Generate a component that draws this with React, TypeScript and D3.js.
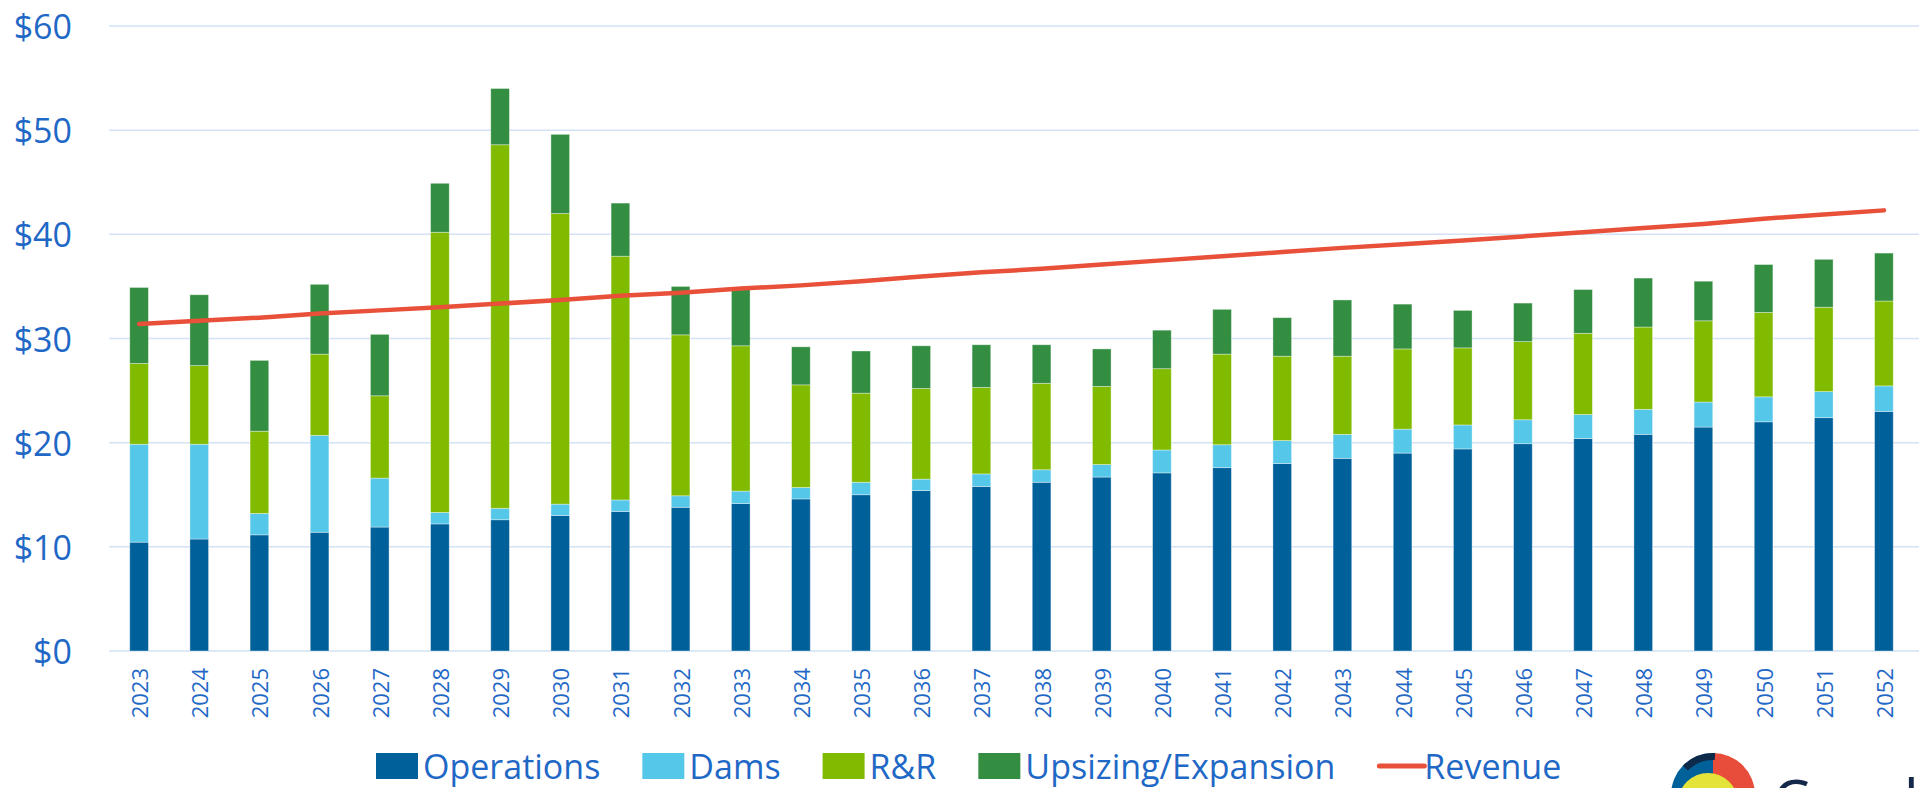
import { useEffect, useRef } from 'react'
import * as d3 from 'd3'

const YEARS = [
  '2023', '2024', '2025', '2026', '2027', '2028', '2029', '2030', '2031', '2032',
  '2033', '2034', '2035', '2036', '2037', '2038', '2039', '2040', '2041', '2042',
  '2043', '2044', '2045', '2046', '2047', '2048', '2049', '2050', '2051', '2052',
]

// $ millions
const OPERATIONS = [
  10.45, 10.75, 11.15, 11.4, 11.9, 12.2, 12.6, 13.0, 13.4, 13.8,
  14.15, 14.6, 15.0, 15.4, 15.8, 16.2, 16.7, 17.1, 17.6, 18.0,
  18.5, 19.0, 19.4, 19.9, 20.4, 20.8, 21.5, 22.0, 22.4, 23.0,
]
const DAMS = [
  9.4, 9.1, 2.05, 9.3, 4.7, 1.1, 1.1, 1.1, 1.1, 1.1,
  1.2, 1.1, 1.2, 1.1, 1.2, 1.2, 1.2, 2.2, 2.2, 2.2,
  2.3, 2.3, 2.3, 2.3, 2.3, 2.4, 2.4, 2.4, 2.5, 2.45,
]
const RR = [
  7.75, 7.55, 7.9, 7.8, 7.9, 26.9, 34.9, 27.9, 23.4, 15.45,
  13.95, 9.85, 8.55, 8.7, 8.3, 8.3, 7.5, 7.8, 8.7, 8.1,
  7.5, 7.7, 7.4, 7.5, 7.8, 7.9, 7.8, 8.1, 8.1, 8.15,
]
const UPSIZING = [
  7.3, 6.8, 6.8, 6.7, 5.9, 4.7, 5.4, 7.6, 5.1, 4.65,
  5.5, 3.65, 4.05, 4.1, 4.1, 3.7, 3.6, 3.7, 4.3, 3.7,
  5.4, 4.3, 3.6, 3.7, 4.2, 4.7, 3.8, 4.6, 4.6, 4.6,
]
const REVENUE = [
  31.4, 31.7, 32.0, 32.4, 32.7, 33.0, 33.35, 33.7, 34.1, 34.4,
  34.8, 35.1, 35.5, 35.95, 36.35, 36.7, 37.1, 37.5, 37.9, 38.3,
  38.7, 39.05, 39.4, 39.8, 40.2, 40.6, 41.0, 41.5, 41.9, 42.3,
]

const Y_TICKS = [0, 10, 20, 30, 40, 50, 60]

const SERIES = [
  { key: 'ops', label: 'Operations', color: '#00609A' },
  { key: 'dams', label: 'Dams', color: '#55C7E8' },
  { key: 'rr', label: 'R&R', color: '#80BB00' },
  { key: 'ups', label: 'Upsizing/Expansion', color: '#348E41' },
]
const REVENUE_COLOR = '#E8503A'
const TEXT_COLOR = '#1F68C6'
const GRID_COLOR = '#D3E2F4'
const FONT = "'Open Sans', 'Noto Sans', sans-serif"

const WIDTH = 1919
const HEIGHT = 788

export default function App() {
  const svgRef = useRef<SVGSVGElement | null>(null)

  useEffect(() => {
    document.body.style.margin = '0'
    if (!svgRef.current) return
    const svg = d3.select(svgRef.current)
    svg.selectAll('*').remove()

    const left = 109
    const right = 1914
    const top = 26
    const bottom = 651

    const rows = YEARS.map((year, i) => ({
      year,
      ops: OPERATIONS[i],
      dams: DAMS[i],
      rr: RR[i],
      ups: UPSIZING[i],
      revenue: REVENUE[i],
    }))

    const x = d3.scaleBand<string>()
      .domain(YEARS)
      .range([left, right])
      .paddingInner(0.69)
      .paddingOuter(0.345)

    const y = d3.scaleLinear().domain([0, 60]).range([bottom, top])

    // gridlines
    svg.append('g')
      .selectAll('line')
      .data(Y_TICKS)
      .join('line')
      .attr('x1', left)
      .attr('x2', WIDTH)
      .attr('y1', d => y(d))
      .attr('y2', d => y(d))
      .attr('stroke', GRID_COLOR)
      .attr('stroke-width', 1.5)

    // y tick labels
    svg.append('g')
      .selectAll('text')
      .data(Y_TICKS)
      .join('text')
      .attr('x', 72)
      .attr('y', d => y(d))
      .attr('text-anchor', 'end')
      .attr('dominant-baseline', 'central')
      .attr('font-family', FONT)
      .attr('font-size', 34)
      .attr('fill', TEXT_COLOR)
      .text(d => `$${d}`)

    // stacked bars
    const stacked = d3.stack<any>().keys(SERIES.map(s => s.key))(rows)
    stacked.forEach((layer, li) => {
      svg.append('g')
        .attr('fill', SERIES[li].color)
        .selectAll('rect')
        .data(layer)
        .join('rect')
        .attr('x', d => x(d.data.year) as number)
        .attr('width', x.bandwidth())
        .attr('y', d => y(d[1]))
        .attr('height', d => y(d[0]) - y(d[1]))
        .attr('stroke', 'rgba(255,255,255,0.45)')
        .attr('stroke-width', 0.8)
    })

    // x tick labels (rotated)
    svg.append('g')
      .selectAll('text')
      .data(YEARS)
      .join('text')
      .attr('transform', d => `translate(${(x(d) as number) + x.bandwidth() / 2}, 668) rotate(-90)`)
      .attr('text-anchor', 'end')
      .attr('dominant-baseline', 'central')
      .attr('font-family', FONT)
      .attr('font-size', 22)
      .attr('fill', TEXT_COLOR)
      .text(d => d)

    // revenue line
    const line = d3.line<any>()
      .x(d => (x(d.year) as number) + x.bandwidth() / 2)
      .y(d => y(d.revenue))
    svg.append('path')
      .datum(rows)
      .attr('d', line)
      .attr('fill', 'none')
      .attr('stroke', REVENUE_COLOR)
      .attr('stroke-width', 4.5)
      .attr('stroke-linecap', 'round')
      .attr('stroke-linejoin', 'round')

    // legend
    const legendY = 766
    const legend = svg.append('g')
    let cursor = 376
    const items = [...SERIES.map(s => ({ ...s, kind: 'box' })), { key: 'rev', label: 'Revenue', color: REVENUE_COLOR, kind: 'line' }]
    items.forEach(item => {
      if (item.kind === 'box') {
        legend.append('rect')
          .attr('x', cursor)
          .attr('y', legendY - 13)
          .attr('width', 42)
          .attr('height', 26)
          .attr('fill', item.color)
      } else {
        legend.append('line')
          .attr('x1', cursor + 2)
          .attr('x2', cursor + 47)
          .attr('y1', legendY)
          .attr('y2', legendY)
          .attr('stroke', item.color)
          .attr('stroke-width', 5)
          .attr('stroke-linecap', 'round')
      }
      const t = legend.append('text')
        .attr('x', cursor + 47)
        .attr('y', legendY)
        .attr('dominant-baseline', 'central')
        .attr('font-family', FONT)
        .attr('font-size', 34)
        .attr('fill', TEXT_COLOR)
        .text(item.label)
      const w = (t.node() as SVGTextElement).getComputedTextLength()
      cursor += 47 + w + 42
    })

    // partial company logo, cut off at the bottom right
    const logo = svg.append('g').attr('transform', 'translate(1713, 795)')
    const ring = d3.arc<any>().innerRadius(0).outerRadius(42)
    logo.append('path').attr('d', ring({ startAngle: 0, endAngle: Math.PI })).attr('fill', '#E84C3A')
    logo.append('path').attr('d', ring({ startAngle: Math.PI, endAngle: 2 * Math.PI })).attr('fill', '#00609A')
    logo.append('path')
      .attr('d', d3.arc<any>().innerRadius(35).outerRadius(42)({ startAngle: -0.8, endAngle: 0.05 }))
      .attr('fill', '#0E2A4A')
    logo.append('circle').attr('cx', -5).attr('cy', 8).attr('r', 30).attr('fill', '#E4E33A')
    logo.append('circle').attr('cx', 10).attr('cy', 18).attr('r', 20).attr('fill', '#7DB542')
    logo.append('circle').attr('cx', 0).attr('cy', 18).attr('r', 17).attr('fill', '#ffffff')
    svg.append('text')
      .attr('x', 1772)
      .attr('y', 823)
      .attr('font-family', FONT)
      .attr('font-size', 60)
      .attr('fill', '#14284A')
      .text('Carollo')
  }, [])

  return (
    <svg
      ref={svgRef}
      width={WIDTH}
      height={HEIGHT}
      style={{ display: 'block', background: '#ffffff' }}
    />
  )
}
